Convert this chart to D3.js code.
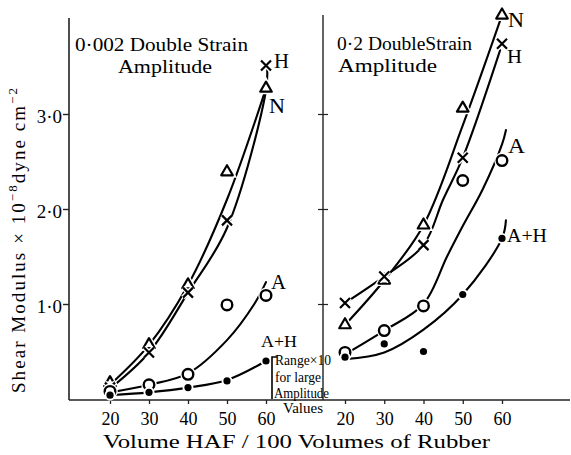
<!DOCTYPE html>
<html>
<head>
<meta charset="utf-8">
<script src="https://cdn.jsdelivr.net/npm/d3@7"></script>
<style>
  html, body { margin: 0; padding: 0; background: #fff; }
  svg { display: block; }
  text { font-family: "Liberation Serif", "DejaVu Serif", serif; fill: #000; }
</style>
</head>
<body>
<svg id="chart" width="571" height="455"></svg>
<script>
// Filler loading (volumes HAF per 100 volumes of rubber)
const volumes = [20, 30, 40, 50, 60];
const yTicks = [1, 2, 3];

// Shear modulus (x 10^-8 dyne cm^-2), 0.002 double strain amplitude
const lowN  = [0.17, 0.57, 1.20, 2.39, 3.27];
const lowH  = [0.12, 0.49, 1.12, 1.88, 3.51];
const lowA  = [0.08, 0.15, 0.26, 0.99, 1.09];
const lowAH = [0.04, 0.07, 0.12, 0.19, 0.40];

// Shear modulus, 0.2 double strain amplitude
const highN  = [0.78, 1.25, 1.83, 3.06, 4.04];
const highH  = [1.01, 1.29, 1.62, 2.54, 3.74];
const highA  = [0.49, 0.72, 0.98, 2.30, 2.51];
const highAH = [0.44, 0.58, 0.50, 1.10, 1.69];

// Hand-drawn smoothing curves: loading and modulus pairs
const lowNCurveX  = [20, 30, 40, 50, 60];
const lowNCurveY  = [0.15, 0.57, 1.20, 2.10, 3.27];
const lowHCurveX  = [20, 30, 40, 50, 60, 60.3];
const lowHCurveY  = [0.11, 0.49, 1.12, 1.80, 3.25, 3.48];
const lowACurveX  = [20, 30, 40, 50, 57, 60];
const lowACurveY  = [0.07, 0.15, 0.27, 0.62, 1.00, 1.23];
const lowAHCurveX = [20, 30, 40, 50, 60];
const lowAHCurveY = [0.04, 0.07, 0.12, 0.20, 0.40];

const highNCurveX  = [20, 30, 40, 50, 60];
const highNCurveY  = [0.78, 1.25, 1.83, 2.88, 4.04];
const highHCurveX  = [20, 30, 40, 45, 50, 59.5];
const highHCurveY  = [1.01, 1.29, 1.62, 2.10, 2.54, 3.67];
const highACurveX  = [20, 30, 40, 46, 50, 55, 60, 61];
const highACurveY  = [0.47, 0.72, 1.00, 1.50, 1.82, 2.20, 2.68, 2.83];
const highAHCurveX = [20, 30, 40, 50, 60, 61];
const highAHCurveY = [0.42, 0.49, 0.73, 1.10, 1.69, 1.88];

const svg = d3.select("#chart");

const y = d3.scaleLinear().domain([0, 3]).range([399, 114]);
const xLow  = d3.scaleLinear().domain([20, 60]).range([110, 266]);
const xHigh = d3.scaleLinear().domain([20, 60]).range([345, 502]);

const ink = "#000";
const fmtTick = d => d3.format(".1f")(d).replace(".", "\u00b7");

function zipCurve(xs, ys) { return xs.map((v, i) => [v, ys[i]]); }

function fitText(sel, width) {
  sel.attr("textLength", width).attr("lengthAdjust", "spacingAndGlyphs");
}

// ---- axes ----
const axisG = svg.append("g");
// baseline shared by both panels
axisG.append("line")
  .attr("x1", 69).attr("x2", 570).attr("y1", y(0) + 1).attr("y2", y(0) + 1)
  .attr("stroke", "#222").attr("stroke-width", 1.6);
// left vertical axis
axisG.append("line")
  .attr("x1", 69).attr("x2", 69).attr("y1", 18).attr("y2", y(0) + 1)
  .attr("stroke", "#222").attr("stroke-width", 1.6);
// right vertical axis
axisG.append("line")
  .attr("x1", 323).attr("x2", 323).attr("y1", 15).attr("y2", y(0) + 1)
  .attr("stroke", "#222").attr("stroke-width", 1.4);

const gyL = svg.append("g").attr("transform", "translate(69,0)")
  .call(d3.axisLeft(y).tickValues(yTicks).tickSize(6).tickPadding(1).tickFormat(fmtTick));
gyL.select(".domain").remove();
gyL.selectAll("line").attr("stroke", "#222").attr("stroke-width", 1.4);
gyL.selectAll("text").attr("font-size", 19).attr("dy", "0.45em")
  .style("font-family", "'Liberation Serif', serif");

const gyR = svg.append("g").attr("transform", "translate(323,0)")
  .call(d3.axisLeft(y).tickValues(yTicks).tickSize(5).tickFormat(""));
gyR.select(".domain").remove();
gyR.selectAll("line").attr("stroke", "#222").attr("stroke-width", 1.2);
const gyR2 = svg.append("g").attr("transform", "translate(323,0)")
  .call(d3.axisRight(y).tickValues(yTicks).tickSize(5).tickFormat(""));
gyR2.select(".domain").remove();
gyR2.selectAll("line").attr("stroke", "#222").attr("stroke-width", 1.2);

[xLow, xHigh].forEach(sc => {
  const g = svg.append("g").attr("transform", `translate(0,${y(0) + 1})`)
    .call(d3.axisBottom(sc).tickValues(volumes).tickSize(4).tickPadding(8).tickFormat(d3.format("d")));
  g.select(".domain").remove();
  g.selectAll("line").attr("stroke", "#222").attr("stroke-width", 1.3);
  g.selectAll("text").attr("font-size", 18)
    .style("font-family", "'Liberation Serif', serif");
});

// ---- curves and markers ----
const line = sc => d3.line().x(d => sc(d[0])).y(d => y(d[1])).curve(d3.curveCatmullRom.alpha(0.5));

const panels = [
  { x: xLow, series: [
    { key: "N",   vals: lowN,  cx: lowNCurveX,  cy: lowNCurveY,  mark: "tri" },
    { key: "H",   vals: lowH,  cx: lowHCurveX,  cy: lowHCurveY,  mark: "x" },
    { key: "A",   vals: lowA,  cx: lowACurveX,  cy: lowACurveY,  mark: "circle" },
    { key: "A+H", vals: lowAH, cx: lowAHCurveX, cy: lowAHCurveY, mark: "dot" } ] },
  { x: xHigh, series: [
    { key: "N",   vals: highN,  cx: highNCurveX,  cy: highNCurveY,  mark: "tri" },
    { key: "H",   vals: highH,  cx: highHCurveX,  cy: highHCurveY,  mark: "x" },
    { key: "A",   vals: highA,  cx: highACurveX,  cy: highACurveY,  mark: "circle" },
    { key: "A+H", vals: highAH, cx: highAHCurveX, cy: highAHCurveY, mark: "dot" } ] }
];

const triPath = d3.symbol(d3.symbolTriangle, 58)();
const crossPath = "M-5,-5L5,5M-5,5L5,-5";

panels.forEach(p => {
  const g = svg.append("g");
  p.series.forEach(s => {
    g.append("path")
      .attr("d", line(p.x)(zipCurve(s.cx, s.cy)))
      .attr("fill", "none").attr("stroke", ink)
      .attr("stroke-width", 2.1).attr("stroke-linecap", "round");
  });
  // markers: a white halo first so the curve breaks around each symbol
  p.series.forEach(s => {
    const pts = volumes.map((v, i) => [v, s.vals[i]]);
    const mg = g.append("g");
    pts.forEach(d => {
      const t = `translate(${p.x(d[0])},${y(d[1])})`;
      if (s.mark === "tri") {
        mg.append("path").attr("d", triPath).attr("transform", t)
          .attr("fill", "#fff").attr("stroke", "#fff").attr("stroke-width", 5);
        mg.append("path").attr("d", triPath).attr("transform", t)
          .attr("fill", "#fff").attr("stroke", ink).attr("stroke-width", 2.2)
          .attr("stroke-linejoin", "round");
      } else if (s.mark === "x") {
        mg.append("path").attr("d", crossPath).attr("transform", t)
          .attr("fill", "none").attr("stroke", "#fff").attr("stroke-width", 5);
        mg.append("path").attr("d", crossPath).attr("transform", t)
          .attr("fill", "none").attr("stroke", ink).attr("stroke-width", 2.2);
      } else if (s.mark === "circle") {
        mg.append("circle").attr("r", 5.3).attr("transform", t)
          .attr("fill", "#fff").attr("stroke", "#fff").attr("stroke-width", 5);
        mg.append("circle").attr("r", 5.3).attr("transform", t)
          .attr("fill", "#fff").attr("stroke", ink).attr("stroke-width", 2.4);
      } else {
        mg.append("circle").attr("r", 5.5).attr("transform", t).attr("fill", "#fff");
        mg.append("circle").attr("r", 3.6).attr("transform", t).attr("fill", ink);
      }
    });
  });
});

// ---- series labels, placed beside each series' last point ----
function endLabel(sc, vals, text, dx, dy, size, width) {
  const t = svg.append("text")
    .attr("x", sc(60) + dx).attr("y", y(vals[vals.length - 1]) + dy)
    .attr("font-size", size).text(text);
  if (width) fitText(t, width);
  return t;
}
endLabel(xLow, lowH, "H", 8, 2, 21, 15);
endLabel(xLow, lowN, "N", 3, 25, 21, 16);
endLabel(xLow, lowA, "A", 5, -6, 20, 15);
endLabel(xLow, lowAH, "A+H", -5, -14, 17, 36);
endLabel(xHigh, highN, "N", 6, 12, 21, 16);
endLabel(xHigh, highH, "H", 5, 19, 19, 15);
endLabel(xHigh, highA, "A", 6, -8, 20, 17);
endLabel(xHigh, highAH, "A+H", 5, 4, 19, 40);

// bracket and note beside the A+H curve of the small-amplitude panel
const bx = xLow(60) + 6, by = y(lowAH[4]) - 4;
svg.append("path")
  .attr("d", `M${bx + 5},${by}L${bx},${by}L${bx},${y(0)}`)
  .attr("fill", "none").attr("stroke", ink).attr("stroke-width", 1.6);
const note = ["Range\u00d710", "for large", "Amplitude", "Values"];
const noteW = [56, 46, 55, 40];
const noteDx = [3, 3, 2, 11];
const noteY = [by + 8, by + 25, by + 41, by + 56];
note.forEach((s, i) => {
  const t = svg.append("text").attr("x", bx + noteDx[i]).attr("y", noteY[i])
    .attr("font-size", 14).text(s);
  fitText(t, noteW[i]);
});

// ---- panel titles ----
fitText(svg.append("text").attr("x", 75).attr("y", 51).attr("font-size", 19)
  .text("0\u00b7002 Double Strain"), 173);
fitText(svg.append("text").attr("x", 118).attr("y", 73).attr("font-size", 19)
  .text("Amplitude"), 94);
fitText(svg.append("text").attr("x", 337).attr("y", 50).attr("font-size", 19)
  .text("0\u00b72 DoubleStrain"), 135);
fitText(svg.append("text").attr("x", 338).attr("y", 72).attr("font-size", 19)
  .text("Amplitude"), 99);

// ---- axis titles ----
fitText(svg.append("text").attr("x", 103).attr("y", 448).attr("font-size", 19)
  .text("Volume  HAF / 100 Volumes of Rubber"), 387);

const yl = svg.append("text")
  .attr("transform", "translate(25,393) rotate(-90)")
  .attr("font-size", 19);
yl.append("tspan").text("Shear  Modulus  \u00d7 10");
yl.append("tspan").attr("font-size", 13).attr("dy", -8).text("\u22128");
yl.append("tspan").attr("dy", 8).text("dyne  cm");
yl.append("tspan").attr("font-size", 13).attr("dy", -8).text("\u22122");
yl.attr("textLength", 305).attr("lengthAdjust", "spacing");
</script>
</body>
</html>
